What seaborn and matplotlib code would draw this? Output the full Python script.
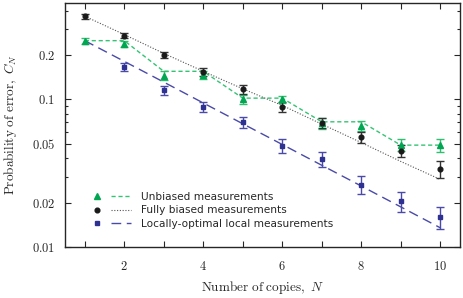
import numpy as np
import matplotlib
matplotlib.use("Agg")
import matplotlib.pyplot as plt
import seaborn as sns
from matplotlib.lines import Line2D
from matplotlib.legend_handler import HandlerTuple

N = [1, 2, 3, 4, 5, 6, 7, 8, 9, 10]
N_LABELS = ["", "2", "", "4", "", "6", "", "8", "", "10"]

# measured points with error bars
unb_val = [0.249, 0.239, 0.145, 0.146, 0.100, 0.100, 0.069, 0.066, 0.049, 0.049]
unb_err = [0.0117, 0.0112, 0.0103, 0.0092, 0.0066, 0.0052, 0.0055, 0.0052, 0.0046, 0.0049]
fb_val = [0.366, 0.270, 0.201, 0.153, 0.117, 0.0887, 0.0696, 0.0556, 0.0448, 0.0338]
fb_err = [0.0128, 0.0113, 0.0100, 0.0096, 0.0077, 0.0070, 0.0055, 0.0048, 0.0042, 0.0043]
N_lo = [2, 3, 4, 5, 6, 7, 8, 9, 10]
lo_val = [0.166, 0.115, 0.0887, 0.0703, 0.0484, 0.0393, 0.0265, 0.0205, 0.0160]
lo_err = [0.0096, 0.0085, 0.0070, 0.0060, 0.0052, 0.0046, 0.0036, 0.0032, 0.0028]

# theory curves
unb_line = [0.25, 0.25, 0.155, 0.155, 0.102, 0.102, 0.0705, 0.0705, 0.049, 0.049]
fb_line = [0.366, 0.275, 0.205, 0.155, 0.118, 0.091, 0.068, 0.051, 0.038, 0.0287]
lo_line = [0.25, 0.181, 0.131, 0.0946, 0.0684, 0.0495, 0.0358, 0.0259, 0.0187, 0.0135]

LABELS = ["Unbiased measurements", "Fully biased measurements",
          "Locally-optimal local measurements"]

sns.set_style("ticks")
plt.rcParams["mathtext.fontset"] = "cm"
plt.rcParams["font.family"] = ["DejaVu Sans"]

fig = plt.figure(figsize=(4.63, 2.98), dpi=100)
ax = fig.add_axes([0.1404, 0.1711, 0.8531, 0.8189])

g_mk, g_ln = "#00a651", "#33c473"
k_mk, k_ln = "#1a1a1a", "#555555"
b_mk, b_ln = "#2e3192", "#4a4aa8"

sns.lineplot(x=N, y=unb_line, ax=ax, color=g_ln, lw=1.0)
ax.lines[-1].set_dashes([3, 2])
sns.lineplot(x=N, y=fb_line, ax=ax, color=k_ln, lw=0.8)
ax.lines[-1].set_dashes([1, 1.5])
sns.lineplot(x=N, y=lo_line, ax=ax, color=b_ln, lw=1.0)
ax.lines[-1].set_dashes([7, 4])

kw = dict(ls="none", capsize=3, elinewidth=1.0, capthick=1.0)
ax.errorbar(N, unb_val, yerr=unb_err, marker="^", ms=4.0, color=g_mk, ecolor="#2fbf6f", **kw)
ax.errorbar(N, fb_val, yerr=fb_err, marker="o", ms=3.4, color=k_mk, ecolor="#333333", **kw)
ax.errorbar(N_lo, lo_val, yerr=lo_err, marker="s", ms=3.3, color=b_mk, ecolor="#4a4aa8", **kw)

ax.set_yscale("log")
ax.set_xlim(0.5, 10.5)
ax.set_ylim(0.01, 0.45)
ax.set_xticks(N)
ax.set_xticklabels(["$%s$" % s if s else "" for s in N_LABELS])
yt = [0.01, 0.02, 0.05, 0.1, 0.2]
ax.set_yticks(yt)
ax.set_yticklabels(["$%g$" % v for v in yt])
ax.yaxis.set_minor_locator(matplotlib.ticker.LogLocator(base=10, subs=np.arange(2, 10)))
ax.yaxis.set_minor_formatter(matplotlib.ticker.NullFormatter())
ax.tick_params(which="both", direction="in", top=True, right=True, labelsize=9, width=0.8)
ax.tick_params(which="major", length=4.5, pad=7)
ax.tick_params(axis="x", which="major", pad=9)
ax.tick_params(which="minor", length=2.5)
for s in ax.spines.values():
    s.set_linewidth(1.0)

ax.set_xlabel(r"$\mathrm{Number\ of\ copies,}\ N$", fontsize=9.5, labelpad=5)
ax.set_ylabel(r"$\mathrm{Probability\ of\ error,}\ C_N$", fontsize=9.5, labelpad=9)

handles = [
    (Line2D([], [], ls="none", marker="^", ms=4.0, color=g_mk),
     Line2D([], [], color=g_ln, lw=1.0, dashes=[3, 2])),
    (Line2D([], [], ls="none", marker="o", ms=3.4, color=k_mk),
     Line2D([], [], color=k_ln, lw=0.8, dashes=[1, 1.5])),
    (Line2D([], [], ls="none", marker="s", ms=3.3, color=b_mk),
     Line2D([], [], color=b_ln, lw=1.0, dashes=[7, 4])),
]
ax.legend(handles, LABELS, handler_map={tuple: HandlerTuple(ndivide=None, pad=0.3)},
          loc="lower left", bbox_to_anchor=(0.045, 0.058), frameon=False, fontsize=7.6,
          handlelength=4.2, handletextpad=0.9, labelspacing=0.32, borderaxespad=0)

fig.savefig("out.png", dpi=100)
